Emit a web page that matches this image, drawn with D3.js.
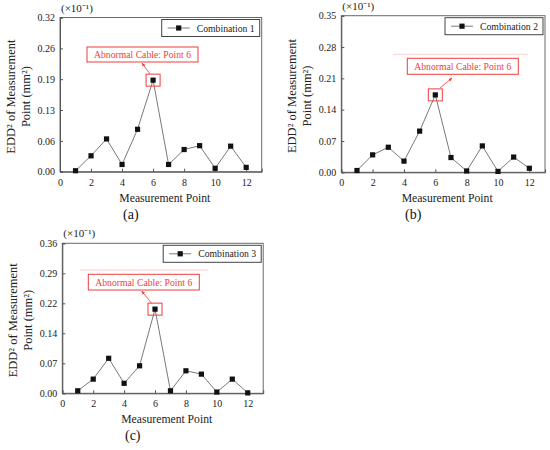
<!DOCTYPE html>
<html>
<head>
<meta charset="utf-8">
<script src="https://cdn.jsdelivr.net/npm/d3@7"></script>
<style>
  body { margin: 0; background: #fff; }
</style>
</head>
<body>
<div id="chart"></div>
<script>
const points = [1, 2, 3, 4, 5, 6, 7, 8, 9, 10, 11, 12];
const combination1 = [0.002, 0.033, 0.068, 0.015, 0.088, 0.190, 0.015, 0.046, 0.054, 0.007, 0.053, 0.009];
const combination2 = [0.004, 0.039, 0.056, 0.025, 0.092, 0.173, 0.033, 0.003, 0.059, 0.002, 0.034, 0.009];
const combination3 = [0.006, 0.034, 0.084, 0.024, 0.066, 0.202, 0.006, 0.054, 0.046, 0.003, 0.034, 0.001];

const seriesNames = ["Combination 1", "Combination 2", "Combination 3"];
const panelTags = ["(a)", "(b)", "(c)"];
const xTicks = [0, 2, 4, 6, 8, 10, 12];
const yTicks1 = [0, 0.064, 0.128, 0.192, 0.256, 0.32];
const yTicks2 = [0, 0.07, 0.14, 0.21, 0.28, 0.35];
const yTicks3 = [0, 0.072, 0.144, 0.216, 0.288, 0.36];
const annotationText = "Abnormal Cable: Point 6";
const abnormalPoint = 6;

const FONT = "'Liberation Serif', 'Times New Roman', serif";
const width = 550, height = 450;
const svg = d3.select("#chart").append("svg")
  .attr("width", width)
  .attr("height", height)
  .attr("font-family", FONT);

// panel geometry (pixels)
const panels = [
  { data: combination1, ticks: yTicks1, name: seriesNames[0], tag: panelTags[0],
    left: 60, right: 261.7, top: 17.5, bottom: 171.7,
    note: { x0: 87, y0: 47, x1: 198, y1: 62 }, arrow: [150, 74, 142, 63], faint: null },
  { data: combination2, ticks: yTicks2, name: seriesNames[1], tag: panelTags[1],
    left: 341.3, right: 545, top: 15.7, bottom: 172.3,
    note: { x0: 407.3, y0: 58.3, x1: 518.3, y1: 74.3 }, arrow: [440, 88, 452, 78], faint: [393, 528, 54.3] },
  { data: combination3, ticks: yTicks3, name: seriesNames[2], tag: panelTags[2],
    left: 62.3, right: 263.2, top: 243.3, bottom: 393.3,
    note: { x0: 88.3, y0: 274.3, x1: 199.3, y1: 290 }, arrow: [151.7, 303.3, 141.7, 291], faint: [80, 208, 270] }
];

const red = "#f03c3c";
const defs = svg.append("defs");
defs.append("marker")
  .attr("id", "arrowhead")
  .attr("viewBox", "0 0 10 10")
  .attr("refX", 9).attr("refY", 5)
  .attr("markerWidth", 5).attr("markerHeight", 5)
  .attr("orient", "auto")
  .append("path")
  .attr("d", "M0,1L10,5L0,9Z")
  .attr("fill", red);

function label(sel) {
  return sel.append("text").style("font-family", FONT);
}

panels.forEach(function(p) {
  const x = d3.scaleLinear().domain([0, 13]).range([p.left, p.right]);
  const yMax = p.ticks[p.ticks.length - 1];
  const y = d3.scaleLinear().domain([0, yMax]).range([p.bottom, p.top]);
  const g = svg.append("g");

  // frame
  g.append("rect")
    .attr("x", p.left).attr("y", p.top)
    .attr("width", p.right - p.left).attr("height", p.bottom - p.top)
    .attr("fill", "none").attr("stroke", "#6a6a6a").attr("stroke-width", 1);

  // axes
  const xAxis = d3.axisBottom(x).tickValues(xTicks).tickSize(-3).tickPadding(7)
    .tickFormat(d3.format("d"));
  const yAxis = d3.axisLeft(y).tickValues(p.ticks).tickSize(-3).tickPadding(5)
    .tickFormat(d3.format(".2f"));

  const gx = g.append("g").attr("transform", "translate(0," + p.bottom + ")").call(xAxis);
  const gy = g.append("g").attr("transform", "translate(" + p.left + ",0)").call(yAxis);
  [gx, gy].forEach(function(ax) {
    ax.attr("font-family", FONT);
    ax.select(".domain").attr("stroke", "#555");
    ax.selectAll(".tick line").attr("stroke", "#555");
    ax.selectAll(".tick text")
      .attr("fill", "#222")
      .style("font-family", FONT)
      .style("font-size", "10px");
  });

  // multiplier
  label(g)
    .attr("x", p.left + 1).attr("y", p.top - 6)
    .attr("font-size", 11).attr("fill", "#222")
    .text("(×10⁻¹)");

  // axis titles
  label(g)
    .attr("x", (p.left + p.right) / 2 + 4).attr("y", p.bottom + 30)
    .attr("text-anchor", "middle")
    .attr("font-size", 12.5).attr("fill", "#222")
    .attr("textLength", 91).attr("lengthAdjust", "spacingAndGlyphs")
    .text("Measurement Point");

  const cy = (p.top + p.bottom) / 2;
  const yl = label(g)
    .attr("transform", "translate(" + (p.left - 45) + "," + (cy + 2) + ") rotate(-90)")
    .attr("text-anchor", "middle")
    .attr("font-size", 12.5).attr("fill", "#222");
  yl.append("tspan").attr("x", 0).attr("dy", 0).text("EDD² of Measurement");
  yl.append("tspan").attr("x", 0).attr("dy", 15).text("Point (mm²)");

  label(g)
    .attr("x", (p.left + p.right) / 2 - 30).attr("y", p.bottom + 47)
    .attr("text-anchor", "middle")
    .attr("font-size", 14).attr("fill", "#111")
    .text(p.tag);

  // faint guide line
  if (p.faint) {
    g.append("line")
      .attr("x1", p.faint[0]).attr("x2", p.faint[1])
      .attr("y1", p.faint[2]).attr("y2", p.faint[2])
      .attr("stroke", "#f7c4c4").attr("stroke-width", 0.8);
  }

  // data line and markers
  const line = d3.line()
    .x(function(d, i) { return x(points[i]); })
    .y(function(d) { return y(d); });

  g.append("path")
    .datum(p.data)
    .attr("d", line)
    .attr("fill", "none")
    .attr("stroke", "#7a7a7a")
    .attr("stroke-width", 1);

  g.selectAll(".pt")
    .data(p.data)
    .enter().append("rect")
    .attr("class", "pt")
    .attr("x", function(d, i) { return x(points[i]) - 2.6; })
    .attr("y", function(d) { return y(d) - 2.6; })
    .attr("width", 5.2).attr("height", 5.2)
    .attr("fill", "#111");

  // highlight box around the abnormal point
  const ai = points.indexOf(abnormalPoint);
  g.append("rect")
    .attr("x", x(points[ai]) - 7).attr("y", y(p.data[ai]) - 6)
    .attr("width", 14).attr("height", 12)
    .attr("fill", "none").attr("stroke", red).attr("stroke-width", 1);

  // annotation
  g.append("rect")
    .attr("x", p.note.x0).attr("y", p.note.y0)
    .attr("width", p.note.x1 - p.note.x0).attr("height", p.note.y1 - p.note.y0)
    .attr("fill", "#fff").attr("stroke", red).attr("stroke-width", 1);
  label(g)
    .attr("x", (p.note.x0 + p.note.x1) / 2).attr("y", (p.note.y0 + p.note.y1) / 2 + 3.5)
    .attr("text-anchor", "middle")
    .attr("font-size", 10.5).attr("fill", red)
    .attr("textLength", 97).attr("lengthAdjust", "spacingAndGlyphs")
    .text(annotationText);
  g.append("line")
    .attr("x1", p.arrow[0]).attr("y1", p.arrow[1])
    .attr("x2", p.arrow[2]).attr("y2", p.arrow[3])
    .attr("stroke", red).attr("stroke-width", 0.8)
    .attr("marker-end", "url(#arrowhead)");

  // legend
  const lw = 98, lh = 17;
  const lx = p.right - 2 - lw, ly = p.top + 2;
  const lg = g.append("g");
  lg.append("rect")
    .attr("x", lx).attr("y", ly).attr("width", lw).attr("height", lh)
    .attr("fill", "#fff").attr("stroke", "#444").attr("stroke-width", 1);
  lg.append("line")
    .attr("x1", lx + 6).attr("x2", lx + 28)
    .attr("y1", ly + lh / 2).attr("y2", ly + lh / 2)
    .attr("stroke", "#7a7a7a").attr("stroke-width", 1);
  lg.append("rect")
    .attr("x", lx + 17 - 2.6).attr("y", ly + lh / 2 - 2.6)
    .attr("width", 5.2).attr("height", 5.2)
    .attr("fill", "#111");
  label(lg)
    .attr("x", lx + 35).attr("y", ly + lh / 2 + 3.5)
    .attr("font-size", 10.5).attr("fill", "#222")
    .attr("textLength", 58).attr("lengthAdjust", "spacingAndGlyphs")
    .text(p.name);
});
</script>
</body>
</html>
